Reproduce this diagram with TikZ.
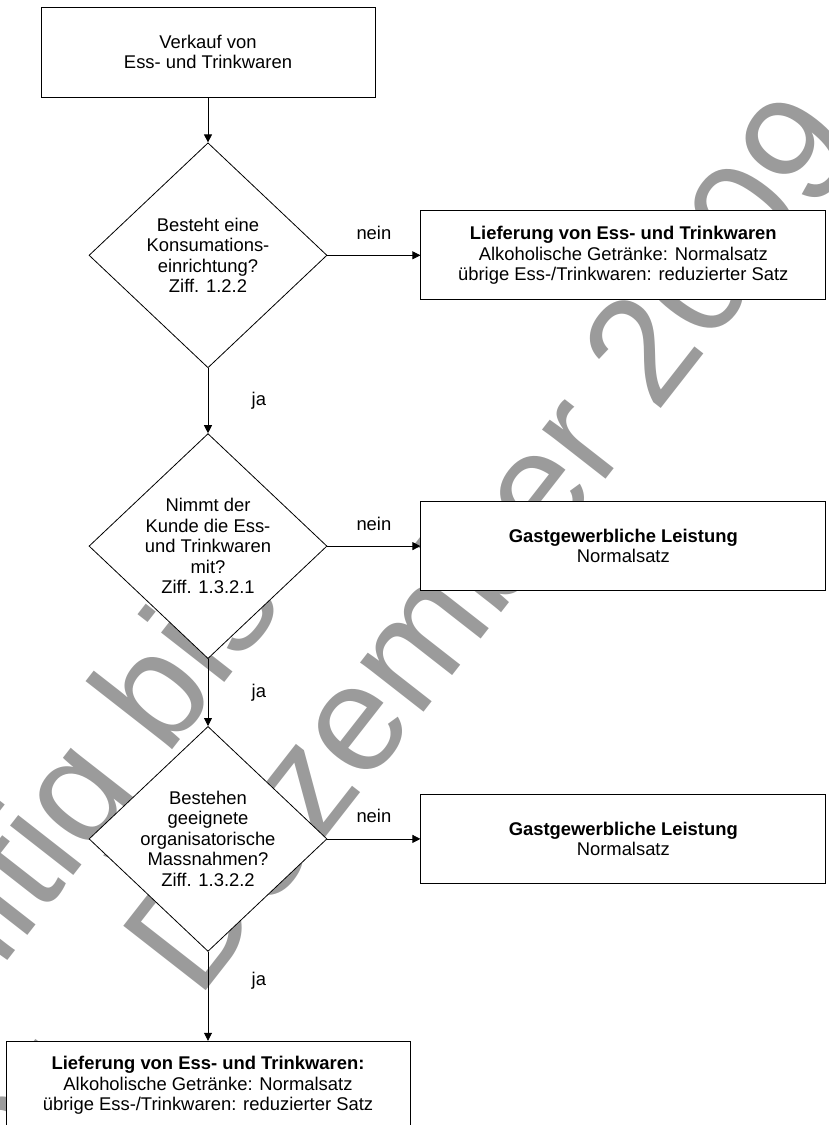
\documentclass[tikz,border=0pt]{standalone}
\usepackage{fontspec}
\setmainfont{Liberation Sans}
\usepackage{xcolor}
\usepackage{tikz}
\usetikzlibrary{
  arrows.meta,
  positioning,
  shapes.geometric
}
\definecolor{wmgray}{HTML}{9B9B9B}
\newcommand{\flowfont}{\fontsize{18.4}{20.5}\selectfont}

\begin{document}
\begin{tikzpicture}[
  x=1pt, y=1pt,
  >={Triangle[length=8pt,width=8pt]},
  box/.style={draw, line width=0.8pt, fill=white, align=center, font=\flowfont,
    minimum width=405pt, minimum height=89pt, inner sep=0pt},
  decision/.style={draw, diamond, line width=0.8pt, fill=white,
    minimum width=238pt, minimum height=225pt, inner sep=0pt},
  qtext/.style={align=center, font=\flowfont},
  lbl/.style={font=\flowfont},
  wm/.style={text=wmgray, font=\fontsize{152}{175}\selectfont, inner sep=0pt, anchor=base west},
]
  \useasboundingbox (0,0) rectangle (828,-1125);

  % Watermark behind everything
  \begin{scope}[shift={(34,-1211)}, rotate=52, transform shape]
    \node[wm] (wmdate) at (0,0) {31. Dezember 2009};
    \node[wm] (wmvalid) at (0,175) {Gültig bis};
  \end{scope}

  % Main column
  \node[box, minimum width=334pt, minimum height=90pt] (start) at (208,-52) {Verkauf von\\Ess- und Trinkwaren};

  \node[decision, below=45pt of start] (q1) {};
  \node[qtext] at (q1.center) {Besteht eine\\Konsumations-\\einrichtung?\\Ziff. 1.2.2};

  \node[decision, below=65pt of q1] (q2) {};
  \node[qtext] at (q2.center) {Nimmt der\\Kunde die Ess-\\und Trinkwaren\\mit?\\Ziff. 1.3.2.1};

  \node[decision, below=67pt of q2] (q3) {};
  \node[qtext] at (q3.center) {Bestehen\\geeignete\\organisatorische\\Massnahmen?\\Ziff. 1.3.2.2};

  \node[box, minimum width=404pt, below=89pt of q3] (stop) {\textbf{Lieferung von Ess- und Trinkwaren:}\\Alkoholische Getränke: Normalsatz\\übrige Ess-/Trinkwaren: reduzierter Satz};

  % Outcomes on the right
  \node[box, right=93pt of q1] (r1) {\textbf{Lieferung von Ess- und Trinkwaren}\\Alkoholische Getränke: Normalsatz\\übrige Ess-/Trinkwaren: reduzierter Satz};
  \node[box, right=93pt of q2] (r2) {\textbf{Gastgewerbliche Leistung}\\Normalsatz};
  \node[box, right=93pt of q3] (r3) {\textbf{Gastgewerbliche Leistung}\\Normalsatz};

  % Connectors
  \draw[->, line width=0.8pt] (start) -- (q1);
  \draw[->, line width=0.8pt] (q1) -- node[lbl, above=12pt] {nein} (r1);
  \draw[->, line width=0.8pt] (q2) -- node[lbl, above=12pt] {nein} (r2);
  \draw[->, line width=0.8pt] (q3) -- node[lbl, above=12pt] {nein} (r3);
  \draw[->, line width=0.8pt] (q1) -- node[lbl, right=40pt] {ja} (q2);
  \draw[->, line width=0.8pt] (q2) -- node[lbl, right=40pt] {ja} (q3);
  \draw[->, line width=0.8pt] (q3) -- node[lbl, right=40pt, pos=0.33] {ja} (stop);
\end{tikzpicture}
\end{document}
